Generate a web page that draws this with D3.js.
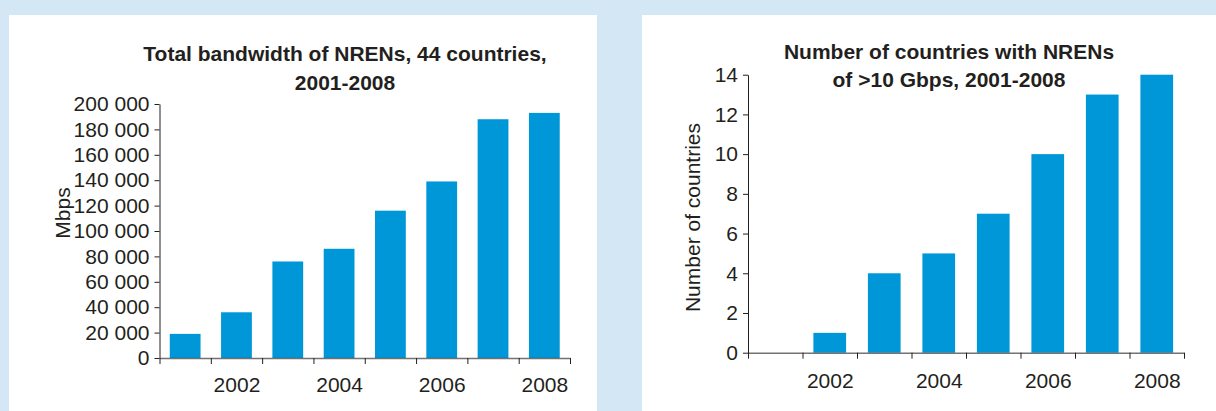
<!DOCTYPE html>
<html>
<head>
<meta charset="utf-8">
<script src="https://cdn.jsdelivr.net/npm/d3@7"></script>
<style>
  html, body { margin: 0; padding: 0; background: #d4e7f5; }
  svg { display: block; }
  text { font-family: "Liberation Sans", Arial, Helvetica, sans-serif; fill: #231f20; }
</style>
</head>
<body>
<svg id="chart" width="1216" height="411"></svg>
<script>
// ---- Data ----
const years = [2001, 2002, 2003, 2004, 2005, 2006, 2007, 2008];
const yearLabels = [2002, 2004, 2006, 2008];

const bandwidthMbps = [19000, 36000, 76000, 86000, 116000, 139000, 188000, 193000];
const bandwidthTicks = [0, 20000, 40000, 60000, 80000, 100000, 120000, 140000, 160000, 180000, 200000];
const bandwidthTitle = ["Total bandwidth of NRENs, 44 countries,", "2001-2008"];
const bandwidthAxisLabel = "Mbps";

const countries10G = [0, 1, 4, 5, 7, 10, 13, 14];
const countriesTicks = [0, 2, 4, 6, 8, 10, 12, 14];
const countriesTitle = ["Number of countries with NRENs", "of >10 Gbps, 2001-2008"];
const countriesAxisLabel = "Number of countries";

// ---- Drawing ----
const svg = d3.select("#chart");
const BAR = "#0097d9";
const FS = "21px";
const fmtSpace = d3.formatLocale({ decimal: ".", thousands: " ", grouping: [3], currency: ["", ""] }).format(",");

// panels
svg.append("rect").attr("x", 9).attr("y", 15).attr("width", 588).attr("height", 396).attr("fill", "#ffffff");
svg.append("rect").attr("x", 642).attr("y", 15).attr("width", 574).attr("height", 396).attr("fill", "#ffffff");

function drawChart(cfg) {
  const g = svg.append("g");
  const x = d3.scaleBand().domain(cfg.years).range([cfg.x0, cfg.x1]).paddingInner(0.4).paddingOuter(0.2);
  const xl = d3.scaleLinear().domain([cfg.years[0] - 0.5, cfg.years[cfg.years.length - 1] + 0.5]).range([cfg.x0, cfg.x1]);
  const y = d3.scaleLinear().domain([0, cfg.ymax]).range([cfg.y0, cfg.ytop]);

  // bars
  g.selectAll("rect.bar").data(cfg.values.map((v, i) => ({ year: cfg.years[i], v })))
    .enter().append("rect")
    .attr("class", "bar")
    .attr("x", d => x(d.year))
    .attr("width", x.bandwidth())
    .attr("y", d => y(d.v))
    .attr("height", d => y(0) - y(d.v))
    .attr("fill", BAR);

  // y axis
  const ya = g.append("g").attr("transform", `translate(${cfg.x0},0)`)
    .call(d3.axisLeft(y).tickValues(cfg.yticks).tickSize(5).tickSizeOuter(0).tickPadding(5).tickFormat(cfg.yfmt));
  ya.select(".domain").attr("stroke", "#231f20").attr("stroke-width", 1);
  ya.selectAll(".tick line").attr("stroke", "#231f20");
  ya.selectAll(".tick text").attr("font-size", FS).attr("fill", "#231f20")
    .attr("font-family", "Liberation Sans, Arial, sans-serif");

  // x axis boundaries
  const bounds = d3.range(cfg.years.length + 1).map(i => cfg.years[0] - 0.5 + i);
  const xa = g.append("g").attr("transform", `translate(0,${cfg.y0})`)
    .call(d3.axisBottom(xl).tickValues(bounds).tickSize(6).tickSizeOuter(0).tickFormat(""));
  xa.select(".domain").attr("stroke", "#444").attr("stroke-opacity", 0.75).attr("stroke-width", 1.6);
  xa.selectAll(".tick line").attr("stroke", "#231f20");

  // x labels
  const xlab = g.append("g").attr("transform", `translate(0,${cfg.y0})`)
    .call(d3.axisBottom(xl).tickValues(yearLabels).tickSize(0).tickPadding(cfg.labelPad).tickFormat(d3.format("d")));
  xlab.select(".domain").remove();
  xlab.selectAll(".tick text").attr("font-size", FS).attr("fill", "#231f20")
    .attr("font-family", "Liberation Sans, Arial, sans-serif");

  // title
  cfg.title.forEach((t, i) => {
    g.append("text").attr("x", cfg.titleX).attr("y", cfg.titleY[i])
      .attr("text-anchor", "middle").attr("font-size", "21px").attr("font-weight", "bold").text(t);
  });

  // y axis title
  g.append("text")
    .attr("transform", `translate(${cfg.ylabX},${cfg.ylabY}) rotate(-90)`)
    .attr("text-anchor", "middle").attr("font-size", FS).text(cfg.ylabel);
}

drawChart({
  years, values: bandwidthMbps, ymax: 200000, yticks: bandwidthTicks, yfmt: fmtSpace,
  x0: 159.5, x1: 570, y0: 358, ytop: 104, labelPad: 19,
  title: bandwidthTitle, titleX: 345, titleY: [61, 89.5],
  ylabel: bandwidthAxisLabel, ylabX: 70, ylabY: 213
});

drawChart({
  years, values: countries10G, ymax: 14, yticks: countriesTicks, yfmt: d3.format("d"),
  x0: 748, x1: 1184, y0: 352.7, ytop: 74.7, labelPad: 20,
  title: countriesTitle, titleX: 949, titleY: [59, 87],
  ylabel: countriesAxisLabel, ylabX: 700, ylabY: 217.5
});
</script>
</body>
</html>
